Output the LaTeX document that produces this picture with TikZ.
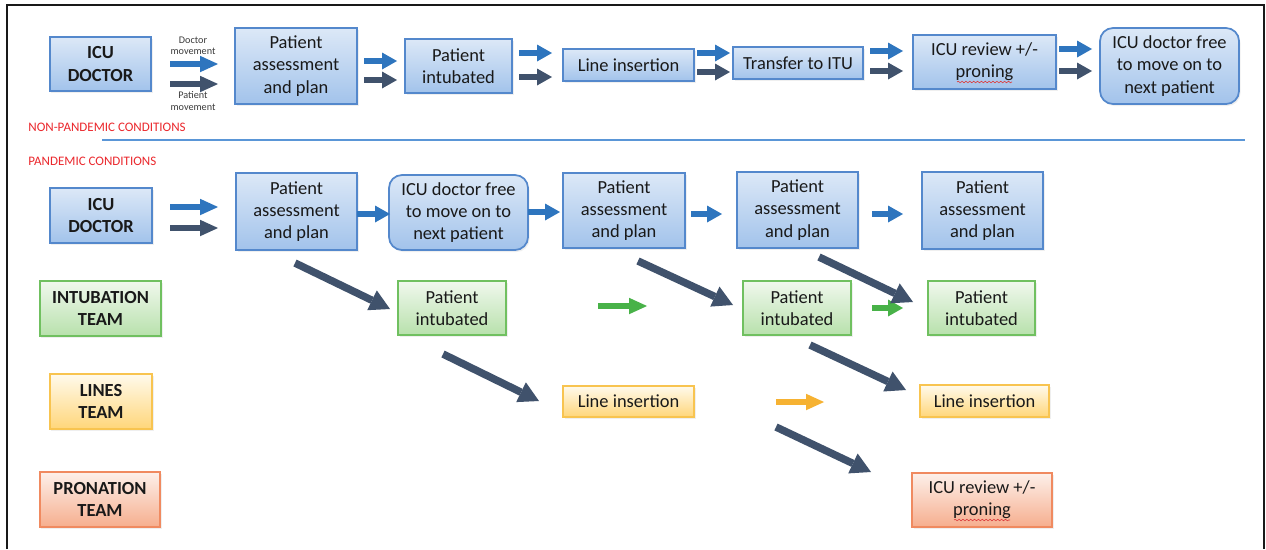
\documentclass[tikz,border=0pt]{standalone}
\usepackage{fontspec}
\setmainfont{Carlito}
\usetikzlibrary{arrows.meta,shadows,decorations.pathmorphing}

\definecolor{bluebd}{RGB}{84,136,204}
\definecolor{bluetop}{RGB}{220,232,247}
\definecolor{bluebot}{RGB}{162,195,235}
\definecolor{greenbd}{RGB}{112,192,96}
\definecolor{greentop}{RGB}{240,248,237}
\definecolor{greenbot}{RGB}{184,225,172}
\definecolor{orgbd}{RGB}{248,196,80}
\definecolor{orgtop}{RGB}{255,250,236}
\definecolor{orgbot}{RGB}{255,214,122}
\definecolor{redbd}{RGB}{240,138,96}
\definecolor{redtop}{RGB}{253,240,234}
\definecolor{redbot}{RGB}{246,174,142}
\definecolor{arrblue}{RGB}{46,117,190}
\definecolor{arrdark}{RGB}{64,82,108}
\definecolor{arrgreen}{RGB}{72,178,72}
\definecolor{arrorg}{RGB}{246,178,50}
\definecolor{txt}{RGB}{25,25,25}
\definecolor{hdrred}{RGB}{235,40,45}
\definecolor{sepline}{RGB}{90,150,215}
\definecolor{smallgray}{RGB}{60,60,60}

\tikzset{
  boxbase/.style={draw, line width=0.035cm, inner sep=0pt, outer sep=0pt, align=center,
    text=txt, font=\fontsize{10.5}{12.6}\selectfont,
    drop shadow={shadow xshift=0.03cm, shadow yshift=-0.04cm, opacity=0.12}},
  bluebox/.style={boxbase, draw=bluebd, top color=bluetop, bottom color=bluebot},
  greenbox/.style={boxbase, draw=greenbd, top color=greentop, bottom color=greenbot},
  orgbox/.style={boxbase, draw=orgbd, top color=orgtop, bottom color=orgbot},
  redbox/.style={boxbase, draw=redbd, top color=redtop, bottom color=redbot},
  roundbox/.style={rounded corners=0.26cm},
  boldtxt/.style={font=\bfseries\fontsize{10.5}{12.6}\selectfont},
  harr/.style={line width=0.12cm, -{Triangle[length=0.3cm,width=0.34cm,line width=0pt]}},
  harrbig/.style={line width=0.13cm, -{Triangle[length=0.36cm,width=0.33cm,line width=0pt]}},
  darr/.style={draw=arrdark, line width=0.15cm, -{Triangle[length=0.4cm,width=0.44cm,line width=0pt]}},
  smalllab/.style={inner sep=0pt, align=center, text=smallgray, font=\fontsize{5.8}{6.4}\selectfont},
  hdr/.style={inner sep=0pt, anchor=west, text=hdrred, font=\fontsize{7.4}{8.5}\selectfont},
  squig/.style={draw={rgb,255:red,220;green,60;blue,60}, line width=0.35pt, decorate,
    decoration={snake, amplitude=0.45pt, segment length=2.2pt}}
}

\newcommand\pbox[7]{%
  \pgfmathsetmacro\pbW{(#4-#2)*0.02}%
  \pgfmathsetmacro\pbH{(#5-#3)*0.02}%
  \node[#6, minimum width=\pbW cm, minimum height=\pbH cm] (#1) at ({(#2+#4)/2},{(#3+#5)/2}) {#7};}
\newcommand\harrow[5]{%
  \coordinate (#1s) at (#2,#4); \coordinate (#1e) at (#3,#4);
  \draw[#5] (#1s) -- (#1e);}

\begin{document}
\begin{tikzpicture}[x=0.02cm, y=-0.02cm]
\useasboundingbox (0,0) rectangle (1266,549);
\fill[white] (0,0) rectangle (1266,549);

% frame
\coordinate (fbl) at (7,549); \coordinate (ftl) at (7,5);
\coordinate (ftr) at (1264,5); \coordinate (fbr) at (1264,549);
\draw[black!90, line width=0.05cm] (fbl) -- (ftl) -- (ftr) -- (fbr);

% ---------------- non-pandemic row ----------------
\pbox{tdoc}{50}{37}{151}{91}{bluebox, boldtxt}{ICU\\DOCTOR}
\pbox{tpa}{235}{28}{357}{104}{bluebox}{Patient\\assessment\\and plan}
\pbox{tint}{405}{39}{512}{93}{bluebox}{Patient\\intubated}
\pbox{tline}{563}{49}{694}{81}{bluebox}{Line insertion}
\pbox{ttr}{733}{47}{863}{79}{bluebox}{Transfer to ITU}
\pbox{trev}{913}{35}{1056}{89}{bluebox}{ICU review +/-\\proning}
\pbox{tfree}{1100}{28}{1239}{104}{bluebox, roundbox}{ICU doctor free\\to move on to\\next patient}

\node[smalllab] (dlab) at (193,46) {Doctor\\movement};
\node[smalllab] (plab) at (193,101) {Patient\\movement};

\harrow{a1b}{170}{218}{64}{harrbig, draw=arrblue}
\harrow{a1d}{170}{218}{84}{harrbig, draw=arrdark}
\harrow{a2b}{364}{397}{61}{harr, draw=arrblue}
\harrow{a2d}{364}{397}{80}{harr, draw=arrdark}
\harrow{a3b}{519}{552}{53}{harr, draw=arrblue}
\harrow{a3d}{519}{552}{77}{harr, draw=arrdark}
\harrow{a4b}{697}{730}{53}{harr, draw=arrblue}
\harrow{a4d}{697}{730}{72}{harr, draw=arrdark}
\harrow{a5b}{870}{903}{51}{harr, draw=arrblue}
\harrow{a5d}{870}{903}{71}{harr, draw=arrdark}
\harrow{a6b}{1059}{1092}{49}{harr, draw=arrblue}
\harrow{a6d}{1059}{1092}{71}{harr, draw=arrdark}

\draw[squig] ([xshift=-0.55cm, yshift=0.14cm]trev.south) -- ([xshift=0.55cm, yshift=0.14cm]trev.south);

% headers and separator
\node[hdr] (hnp) at (28,127) {NON-PANDEMIC CONDITIONS};
\coordinate (sepL) at (102,140); \coordinate (sepR) at (1245,140);
\draw[sepline, line width=0.04cm] (sepL) -- (sepR);
\node[hdr] (hp) at (28,161) {PANDEMIC CONDITIONS};

% ---------------- pandemic: ICU doctor row ----------------
\pbox{pdoc}{50}{188}{152}{243}{bluebox, boldtxt}{ICU\\DOCTOR}
\pbox{ppa1}{236}{173}{357}{250}{bluebox}{Patient\\assessment\\and plan}
\pbox{pfree}{389}{175}{528}{250}{bluebox, roundbox}{ICU doctor free\\to move on to\\next patient}
\pbox{ppa2}{563}{173}{685}{248}{bluebox}{Patient\\assessment\\and plan}
\pbox{ppa3}{737}{172}{858}{248}{bluebox}{Patient\\assessment\\and plan}
\pbox{ppa4}{922}{172}{1043}{249}{bluebox}{Patient\\assessment\\and plan}

\harrow{b1b}{170}{218}{207}{harrbig, draw=arrblue}
\harrow{b1d}{170}{218}{228}{harrbig, draw=arrdark}
\harrow{b2b}{357}{390}{214}{harr, draw=arrblue}
\harrow{b3b}{528}{560}{212}{harr, draw=arrblue}
\harrow{b4b}{691}{722}{214}{harr, draw=arrblue}
\harrow{b5b}{872}{903}{214}{harr, draw=arrblue}

% ---------------- intubation row ----------------
\pbox{gteam}{40}{281}{161}{336}{greenbox, boldtxt}{INTUBATION\\TEAM}
\pbox{gint1}{398}{281}{506}{335}{greenbox}{Patient\\intubated}
\pbox{gint2}{743}{281}{851}{335}{greenbox}{Patient\\intubated}
\pbox{gint3}{928}{281}{1035}{335}{greenbox}{Patient\\intubated}

\harrow{g1}{598}{647}{306}{harrbig, draw=arrgreen}
\harrow{g2}{872}{903}{308}{harr, draw=arrgreen}

% ---------------- lines row ----------------
\pbox{lteam}{50}{374}{152}{429}{orgbox, boldtxt}{LINES\\TEAM}
\pbox{line1}{563}{386}{694}{417}{orgbox}{Line insertion}
\pbox{line2}{920}{385}{1049}{417}{orgbox}{Line insertion}

\harrow{o1}{776}{824}{402}{harrbig, draw=arrorg}

% ---------------- pronation row ----------------
\pbox{pteam}{40}{472}{160}{527}{redbox, boldtxt}{PRONATION\\TEAM}
\pbox{rev2}{912}{473}{1052}{527}{redbox}{ICU review +/-\\proning}
\draw[squig] ([xshift=-0.56cm, yshift=0.14cm]rev2.south) -- ([xshift=0.56cm, yshift=0.14cm]rev2.south);

% ---------------- diagonal patient-movement arrows ----------------
\coordinate (d1s) at (295,263); \coordinate (d1e) at (390,309);
\coordinate (d2s) at (638,261); \coordinate (d2e) at (733,305);
\coordinate (d3s) at (819,257); \coordinate (d3e) at (913,302);
\coordinate (d4s) at (443,354); \coordinate (d4e) at (539,401);
\coordinate (d5s) at (810,345); \coordinate (d5e) at (906,390);
\coordinate (d6s) at (776,427); \coordinate (d6e) at (871,472);
\draw[darr] (d1s) -- (d1e);
\draw[darr] (d2s) -- (d2e);
\draw[darr] (d3s) -- (d3e);
\draw[darr] (d4s) -- (d4e);
\draw[darr] (d5s) -- (d5e);
\draw[darr] (d6s) -- (d6e);
\end{tikzpicture}
\end{document}
